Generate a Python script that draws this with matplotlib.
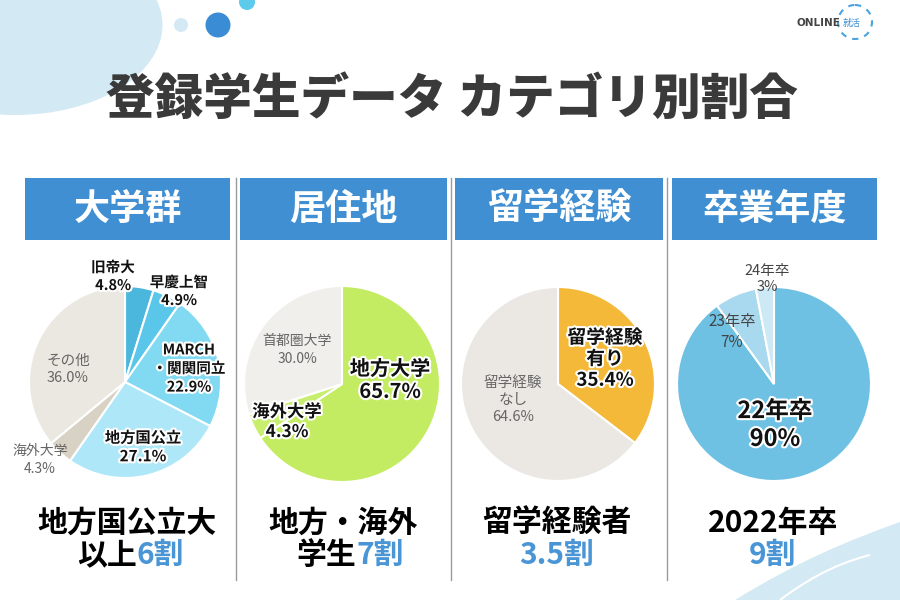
import matplotlib
matplotlib.use("Agg")
import matplotlib.pyplot as plt
import matplotlib.patheffects as pe
from matplotlib.patches import Circle, Ellipse, Rectangle, PathPatch
from matplotlib.path import Path

plt.rcParams['font.family'] = ['Noto Sans CJK JP', 'DejaVu Sans']

# ------------------------------------------------------------
# Data
# ------------------------------------------------------------
title = "登録学生データ カテゴリ別割合"
panel_titles = ["大学群", "居住地", "留学経験", "卒業年度"]

univ_labels = ["旧帝大", "早慶上智", "MARCH\n・関関同立", "地方国公立", "海外大学", "その他"]
univ_values = [4.8, 4.9, 22.9, 27.1, 4.3, 36.0]

home_labels = ["地方大学", "海外大学", "首都圏大学"]
home_values = [65.7, 4.3, 30.0]

abroad_labels = ["留学経験\n有り", "留学経験\nなし"]
abroad_values = [35.4, 64.6]

grad_labels = ["22年卒", "23年卒", "24年卒"]
grad_values = [90, 7, 3]

summary_black = ["地方国公立大\n以上", "地方・海外\n学生", "留学経験者", "2022年卒"]
summary_blue = ["6割", "7割", "3.5割", "9割"]

# ------------------------------------------------------------
# Styles
# ------------------------------------------------------------
BLUE = "#3f8fd2"
GRAY = "#666666"

univ_colors = ["#4cb7dc", "#5ac7ea", "#82daf2", "#aee7f7", "#d8d2c5", "#ebe8e2"]
home_colors = ["#c3ec62", "#c8ee6e", "#f1efeb"]
abroad_colors = ["#f4b938", "#ebe8e3"]
grad_colors = ["#6fc1e3", "#a9d9ee", "#cde9f5"]

fig = plt.figure(figsize=(9, 6), dpi=100)
ax = fig.add_axes([0, 0, 1, 1])

# ------------------------------------------------------------
# Decorations
# ------------------------------------------------------------
ax.add_patch(Ellipse((15, 25), 295, 180, color="#d3e9f4", lw=0, zorder=0))
ax.add_patch(Circle((181, 25), 7, color="#d3e9f4", lw=0))
ax.add_patch(Circle((218, 25), 12.5, color="#3a8dd4", lw=0))
ax.add_patch(Circle((247, 2), 8, color="#5ccbeb", lw=0))

wave = Path([(900, 522), (850, 540), (800, 560), (735, 600),
             (900, 600), (900, 522)],
            [Path.MOVETO, Path.CURVE4, Path.CURVE4, Path.CURVE4,
             Path.LINETO, Path.CLOSEPOLY])
ax.add_patch(PathPatch(wave, color="#d3e9f4", lw=0, zorder=0))
arc = Path([(870, 555), (830, 565), (800, 585), (780, 600)],
           [Path.MOVETO, Path.CURVE4, Path.CURVE4, Path.CURVE4])
ax.add_patch(PathPatch(arc, fc="none", ec="white", lw=1.5, zorder=0))

# logo
ax.text(818, 23, "ONLINE", fontsize=7.5, fontweight="bold", color="#444444",
        ha="center", va="center", family=["DejaVu Sans"])
ax.text(852, 23, "就活", fontsize=6.5, color=BLUE, ha="center", va="center")
ax.add_patch(Circle((855, 22), 17, fc="none", ec="#4aa3dc", lw=1.5,
                    ls=(0, (3, 3))))

# title
ax.text(452, 100, title, fontsize=35, fontweight="black", color="#3a3a3a",
        ha="center", va="center")

# panel headers and separators
box_x = [25, 240, 455, 672]
box_w = [205, 207, 208, 205]
for bx, bw, t in zip(box_x, box_w, panel_titles):
    ax.add_patch(Rectangle((bx, 178), bw, 62, color=BLUE, lw=0))
    ax.text(bx + bw / 2, 209, t, fontsize=26, fontweight="bold",
            color="white", ha="center", va="center")
for sx in [236, 451, 667]:
    ax.plot([sx, sx], [178, 580], color="#9a9a9a", lw=1)

# ------------------------------------------------------------
# Pies (y axis is inverted -> startangle -90 & counterclock draws
# clockwise from 12 o'clock on screen)
# ------------------------------------------------------------
wp = dict(edgecolor="white", linewidth=1.5)
ax.pie(univ_values, colors=univ_colors, center=(125, 382), radius=96,
       startangle=-90, counterclock=True, wedgeprops=wp, frame=True)
ax.pie(home_values, colors=home_colors, center=(342, 384), radius=98,
       startangle=-90, counterclock=True, wedgeprops=wp, frame=True)
ax.pie(abroad_values, colors=abroad_colors, center=(558, 384), radius=97,
       startangle=-90, counterclock=True, wedgeprops=wp, frame=True)
ax.pie(grad_values, colors=grad_colors, center=(774, 384), radius=97,
       startangle=-90, counterclock=True, wedgeprops=wp, frame=True)

halo = [pe.withStroke(linewidth=3, foreground="white")]


def lab(x, y, name, val, size, bold, color, fmt="{:.1f}%", gap=1.15):
    txt = name + "\n" + fmt.format(val)
    ax.text(x, y, txt, fontsize=size, fontweight="bold" if bold else "normal",
            color=color, ha="center", va="center", linespacing=gap,
            path_effects=halo if bold else None)


# 大学群
lab(113, 276, univ_labels[0], univ_values[0], 10.5, True, "#111111")
lab(179, 291, univ_labels[1], univ_values[1], 10.5, True, "#111111")
lab(189, 368, univ_labels[2], univ_values[2], 10.5, True, "#111111", gap=1.2)
lab(143, 447, univ_labels[3], univ_values[3], 11, True, "#111111", gap=1.2)
lab(40, 460, univ_labels[4], univ_values[4], 10, False, GRAY, gap=1.3)
lab(68, 369, univ_labels[5], univ_values[5], 10.5, False, GRAY, gap=1.3)

# 居住地
lab(297, 350, home_labels[2], home_values[2], 10, False, GRAY, gap=1.3)
lab(390, 380, home_labels[0], home_values[0], 14.5, True, "#111111", gap=1.1)
lab(287, 422, home_labels[1], home_values[1], 12.5, True, "#111111", gap=1.15)

# 留学経験
lab(605, 359, abroad_labels[0], abroad_values[0], 13.5, True, "#111111", gap=1.15)
lab(513, 400, abroad_labels[1], abroad_values[1], 10.5, False, GRAY, gap=1.3)

# 卒業年度
lab(767, 279, grad_labels[2], grad_values[2], 10.5, False, "#444444",
    fmt="{:d}%", gap=1.25)
lab(732, 332, grad_labels[1], grad_values[1], 11, False, "#444444",
    fmt="{:d}%", gap=1.25)
lab(775, 425, grad_labels[0], grad_values[0], 17, True, "#111111",
    fmt="{:d}%", gap=1.2)

# ------------------------------------------------------------
# Summary texts
# ------------------------------------------------------------
line1_y, line2_y = 523, 555
fs = 21.5
for cx, split, black, blue in [(127, 137, summary_black[0], summary_blue[0]),
                               (343, 356, summary_black[1], summary_blue[1])]:
    top, bottom = black.split("\n")
    ax.text(cx, line1_y, top, fontsize=fs, fontweight="bold", color="black",
            ha="center", va="center")
    ax.text(split, line2_y, bottom, fontsize=fs, fontweight="bold",
            color="black", ha="right", va="center")
    ax.text(split, line2_y, blue, fontsize=fs, fontweight="bold",
            color="#4a95d6", ha="left", va="center")

for cx, black, blue in [(557, summary_black[2], summary_blue[2]),
                        (773, summary_black[3], summary_blue[3])]:
    ax.text(cx, line1_y, black, fontsize=fs, fontweight="bold", color="black",
            ha="center", va="center")
    ax.text(cx, line2_y, blue, fontsize=fs, fontweight="bold",
            color="#4a95d6", ha="center", va="center")

ax.set_xlim(0, 900)
ax.set_ylim(600, 0)
ax.set_aspect("equal")
ax.axis("off")

fig.savefig("out.png", dpi=100)
